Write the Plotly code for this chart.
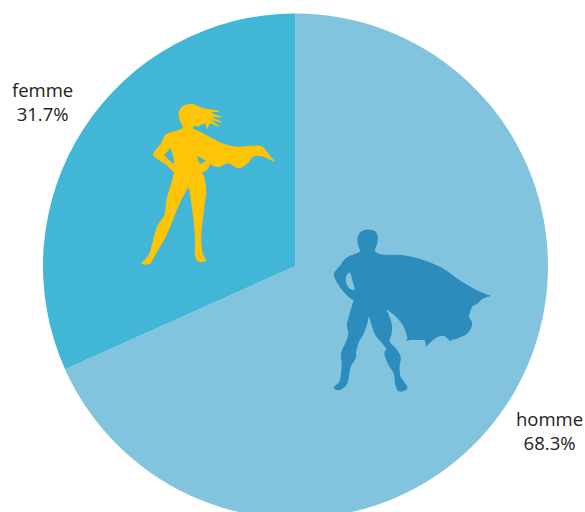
import plotly.graph_objects as go

W, H = 585, 532

categories = ["homme", "femme"]
shares = [68.3, 31.7]
share_labels = ["68.3%", "31.7%"]
slice_colors = ["#82c4de", "#41b6d6"]

# decorative silhouettes: outlines in reference-zoom units (crop offset, 3x); a repeated point is a sharp corner
woman_outline = [(160,100),(152,78),(147,58),(152,42),(165,32),(188,29),(208,37),(225,42),(262,48),(262,48),(240,52),(268,65),(268,65),(243,66),(270,80),(270,80),(242,76),(264,93),(264,93),(240,84),(232,98),(232,98),(224,84),(205,92),(190,92),(186,102),(186,102),(215,115),(240,128),(280,148),(320,157),(380,153),(400,160),(428,195),(428,195),(395,182),(370,183),(350,205),(325,218),(295,203),(265,215),(245,208),(240,204),(240,204),(228,225),(212,231),(212,231),(222,250),(227,290),(222,330),(216,380),(212,420),(215,470),(225,493),(225,497),(205,498),(197,480),(197,440),(193,380),(185,320),(178,272),(178,272),(165,290),(145,330),(125,380),(108,420),(85,460),(68,490),(60,505),(38,506),(38,503),(50,490),(62,470),(75,420),(85,390),(105,360),(112,310),(130,250),(133,230),(133,230),(105,205),(75,185),(72,175),(95,145),(108,120),(135,110)]
woman_holes = [[(122,155),(122,155),(100,180),(100,180),(125,205),(135,205),(130,180)], [(198,180),(198,180),(207,205),(212,208),(232,197),(232,197)]]
man_outline = [(100,50),(110,35),(130,30),(150,35),(156,50),(155,70),(148,88),(150,97),(150,97),(170,105),(230,107),(290,120),(350,145),(400,180),(450,210),(490,227),(490,227),(472,235),(455,250),(440,258),(440,258),(430,290),(440,310),(425,340),(400,352),(375,360),(375,360),(358,345),(358,345),(335,350),(305,375),(305,375),(300,358),(300,358),(250,358),(250,358),(238,320),(215,290),(180,262),(180,262),(198,310),(198,340),(192,365),(210,385),(225,410),(222,440),(225,470),(245,500),(240,510),(220,511),(212,490),(208,460),(190,430),(180,400),(185,385),(165,360),(150,340),(140,310),(132,280),(132,280),(125,310),(115,340),(100,365),(92,395),(90,415),(75,440),(70,470),(65,490),(45,508),(28,503),(45,485),(50,460),(52,430),(50,400),(65,365),(72,340),(68,310),(88,240),(88,240),(75,232),(50,205),(28,165),(45,140),(65,115),(100,100),(108,95),(108,95),(100,70)]
man_holes = [[(75,155),(60,175),(70,205),(90,210),(85,185)]]


def sil_path(rings, ox, oy):
    parts = []
    for ring in rings:
        pts = [(ox + x / 3, oy + y / 3) for x, y in ring]
        n = len(pts)
        fmt = lambda p: f"{p[0]/W:.5f},{1-p[1]/H:.5f}"
        d = "M " + fmt(pts[0])
        for i in range(n):
            p0, p1, p2, p3 = pts[i-1], pts[i], pts[(i+1) % n], pts[(i+2) % n]
            c1 = (p1[0] + (p2[0]-p0[0])/6, p1[1] + (p2[1]-p0[1])/6)
            c2 = (p2[0] - (p3[0]-p1[0])/6, p2[1] - (p3[1]-p1[1])/6)
            d += f" C {fmt(c1)} {fmt(c2)} {fmt(p2)}"
        parts.append(d + " Z")
    return " ".join(parts)


fig = go.Figure(go.Pie(
    labels=categories,
    values=shares,
    marker=dict(colors=slice_colors, line=dict(width=0)),
    sort=False,
    direction="clockwise",
    rotation=0,
    textinfo="none",
    hoverinfo="label+percent",
    domain=dict(x=[43/W, 548/W], y=[1-518.5/H, 1-13.5/H]),
    showlegend=False,
))

label_font = dict(family="'Open Sans', Lato, sans-serif", size=18.5, color="#222222")
fig.update_layout(
    width=W, height=H,
    margin=dict(l=0, r=0, t=0, b=0),
    paper_bgcolor="white",
    showlegend=False,
    shapes=[
        dict(type="path", xref="paper", yref="paper", path=sil_path([woman_outline] + woman_holes, 130, 95),
             fillcolor="#fdc506", line=dict(width=1.2, color="#fdc506")),
        dict(type="path", xref="paper", yref="paper", path=sil_path([man_outline] + man_holes, 325, 220),
             fillcolor="#2c8cbc", line=dict(width=1.2, color="#2c8cbc")),
    ],
    annotations=[
        dict(text=f"{categories[1]}<br>{share_labels[1]}", x=42/W, y=1-102/H, xref="paper", yref="paper",
             showarrow=False, font=label_font, align="center", xanchor="center", yanchor="middle"),
        dict(text=f"{categories[0]}<br>{share_labels[0]}", x=549.5/W, y=1-430/H, xref="paper", yref="paper",
             showarrow=False, font=label_font, align="center", xanchor="center", yanchor="middle"),
    ],
)

fig.write_html("out.html", config=dict(displayModeBar=False),
               post_script="document.documentElement.style.overflow='hidden';document.body.style.overflow='hidden';document.body.style.margin='0';")
